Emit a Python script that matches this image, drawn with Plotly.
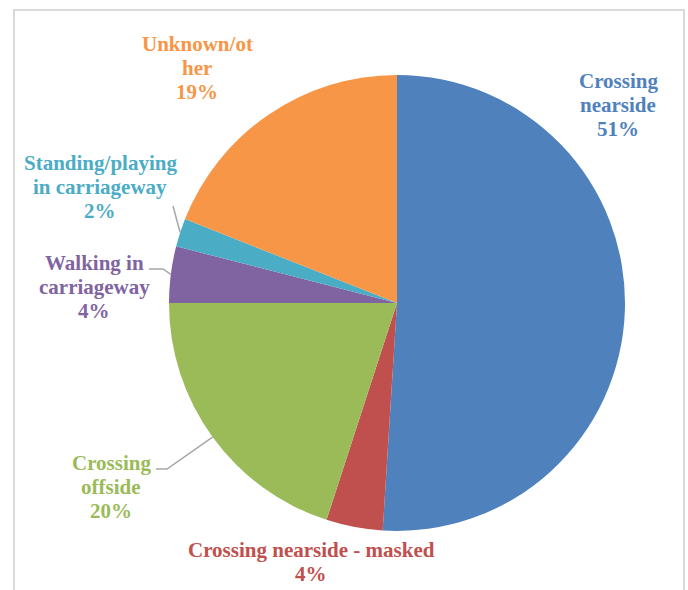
import math
import plotly.graph_objects as go

# ---- data ----
labels = ["Crossing nearside", "Crossing nearside - masked", "Crossing offside",
          "Walking in carriageway", "Standing/playing in carriageway", "Unknown/other"]
values = [51, 4, 20, 4, 2, 19]
colors = ["#4F81BD", "#C0504D", "#9BBB59", "#8064A2", "#4BACC6", "#F79646"]
label_lines = [["Crossing", "nearside"], ["Crossing nearside - masked"], ["Crossing", "offside"],
               ["Walking in", "carriageway"], ["Standing/playing", "in carriageway"], ["Unknown/ot", "her"]]

# ---- layout (pixels) ----
W, H = 688, 590
CX, CY, R = 397, 303, 228
label_pos = [(618, 81), (311, 550), (111, 463), (94, 263), (100, 163), (197, 44)]
leader_start = {2: [(156, 469), (167, 469)], 3: [(149, 269), (163, 269)], 4: [(173, 206)]}
LINE_H = 24
FONT = "'Liberation Serif', 'Times New Roman', 'DejaVu Serif', serif"

def px(x):
    return x / W

def py(y):
    return 1 - y / H

fig = go.Figure(go.Pie(
    labels=labels, values=values, sort=False, direction="clockwise", rotation=0,
    marker=dict(colors=colors, line=dict(width=0)),
    textinfo="none", showlegend=False,
    domain=dict(x=[px(CX - R), px(CX + R)], y=[py(CY + R), py(CY - R)]),
))

annotations = []
total = sum(values)
for i, (lines, v) in enumerate(zip(label_lines, values)):
    x0, y0 = label_pos[i]
    for k, t in enumerate(lines + [f"{v}%"]):
        annotations.append(dict(
            x=px(x0), y=py(y0 + k * LINE_H), xref="paper", yref="paper",
            text=f"<b>{t}</b>", showarrow=False, xanchor="center", yanchor="middle",
            font=dict(family=FONT, size=21, color=colors[i]),
        ))

shapes = []
cum = 0
mids = []
for v in values:
    mids.append((cum + v / 2) / total * 2 * math.pi)
    cum += v
for i, pts in leader_start.items():
    a = mids[i]
    end = (CX + R * math.sin(a), CY - R * math.cos(a))
    path_pts = pts + [end]
    path = "M " + " L ".join(f"{px(x)},{py(y)}" for x, y in path_pts)
    shapes.append(dict(type="path", xref="paper", yref="paper", path=path,
                       line=dict(color="#A6A6A6", width=1.5)))

# chart border
shapes.append(dict(type="rect", xref="paper", yref="paper",
                   x0=px(14), x1=px(684), y0=py(600), y1=py(10),
                   line=dict(color="#D9D9D9", width=2)))

fig.update_layout(
    width=W, height=H, margin=dict(l=0, r=0, t=0, b=0),
    paper_bgcolor="white", plot_bgcolor="white",
    font=dict(family=FONT),
    annotations=annotations, shapes=shapes,
)
fig.write_html("out.html", config={"displayModeBar": False},
               post_script="document.body.style.margin='0';")
